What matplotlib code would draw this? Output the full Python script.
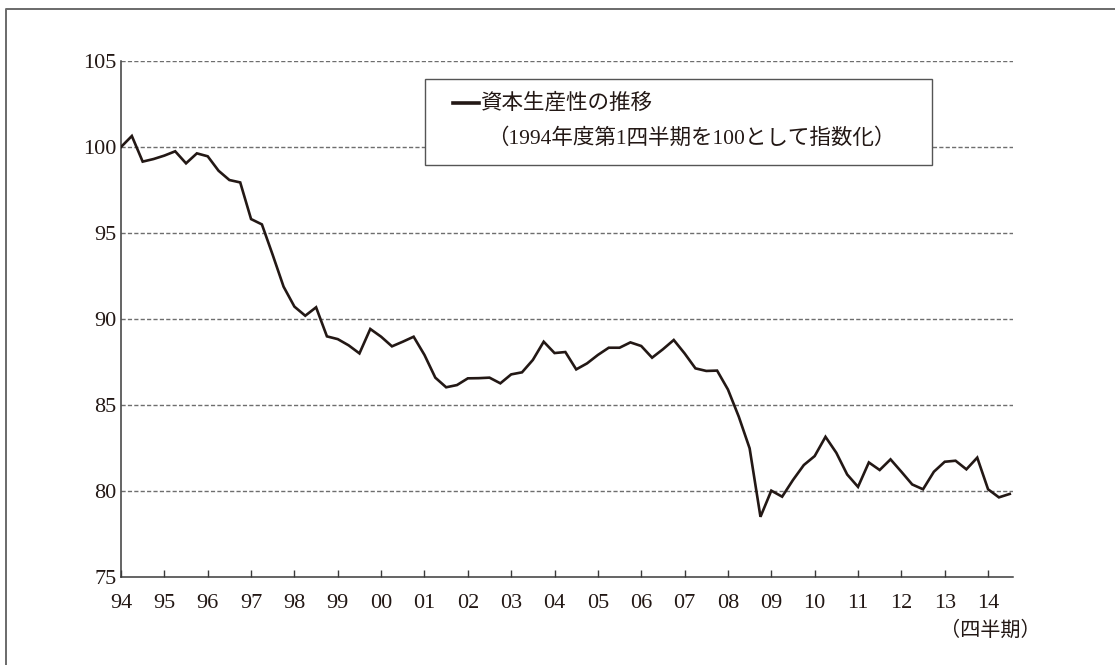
import matplotlib
matplotlib.use("Agg")
import matplotlib.pyplot as plt
from matplotlib.lines import Line2D
from matplotlib.patches import Rectangle

# ---- data ----
start_year = 1994
quarter_values = [
    100.0, 100.64, 99.15, 99.3, 99.5, 99.75, 99.05, 99.63, 99.46, 98.62,
    98.08, 97.94, 95.81, 95.5, 93.72, 91.88, 90.72, 90.19, 90.68, 88.99,
    88.83, 88.47, 88.0, 89.42, 88.97, 88.41, 88.68, 88.97, 87.91, 86.59,
    86.03, 86.16, 86.55, 86.56, 86.59, 86.26, 86.78, 86.9, 87.62, 88.68,
    88.02, 88.08, 87.07, 87.42, 87.91, 88.33, 88.33, 88.64, 88.43, 87.75,
    88.24, 88.78, 88.0, 87.13, 86.98, 87.0, 85.9, 84.32, 82.48, 78.5,
    80.02, 79.67, 80.64, 81.51, 82.03, 83.15, 82.22, 80.96, 80.24, 81.66,
    81.22, 81.84, 81.12, 80.38, 80.1, 81.12, 81.7, 81.76, 81.26, 81.94,
    80.1, 79.63, 79.83,
]
year_ticks = list(range(1994, 2015))
year_labels = ["94", "95", "96", "97", "98", "99", "00", "01", "02", "03",
               "04", "05", "06", "07", "08", "09", "10", "11", "12", "13", "14"]
y_ticks = [75, 80, 85, 90, 95, 100, 105]
legend_line1 = "資本生産性の推移"
legend_line2 = "（1994年度第1四半期を100として指数化）"
x_unit_label = "（四半期）"

x_vals = [start_year + i / 4 for i in range(len(quarter_values))]

FONT = ["Liberation Serif", "Noto Sans CJK JP", "DejaVu Sans"]
plt.rcParams["font.family"] = FONT

W, H = 1115, 665
fig = plt.figure(figsize=(W / 100, H / 100), dpi=100)
fig.patch.set_facecolor("white")

def fx(px):
    return px / W

def fy(py):
    return 1 - py / H

ax = fig.add_axes([fx(121), fy(577), fx(1013) - fx(121), fy(61) - fy(577)])
ink = "#231815"

ax.plot(x_vals, quarter_values, color=ink, lw=1.9, solid_joinstyle="miter", zorder=3)

ax.set_xlim(1994, 2014.575)
ax.set_ylim(75, 105)
ax.set_yticks(y_ticks)
ax.set_yticklabels([str(v) for v in y_ticks])
ax.set_xticks(year_ticks)
ax.set_xticklabels(year_labels)

for v in y_ticks[1:]:
    ax.axhline(v, color="#6e6e6e", lw=1.0, ls=(0, (3.0, 1.6)), zorder=1)

for s in ["top", "right"]:
    ax.spines[s].set_visible(False)
for s in ["left", "bottom"]:
    ax.spines[s].set_color("#3a3a3a")
    ax.spines[s].set_linewidth(1.1)

ax.tick_params(axis="y", length=0, pad=3, labelsize=16, labelcolor=ink)
ax.tick_params(axis="x", direction="in", length=5, width=1.0, color="#3a3a3a",
               pad=12.5, labelsize=16, labelcolor=ink)

# legend box
box = Rectangle((fx(425), fy(165)), fx(932) - fx(425), fy(79) - fy(165),
                transform=fig.transFigure, facecolor="white", edgecolor="#555555",
                lw=1.0, zorder=5)
fig.add_artist(box)
fig.add_artist(Line2D([fx(453), fx(479)], [fy(103), fy(103)], transform=fig.transFigure,
                      color=ink, lw=2.6, zorder=6))
fig.text(fx(480), fy(103), legend_line1, ha="left", va="center", fontsize=15.5,
         color=ink, family=FONT, zorder=6)
fig.text(fx(487), fy(139), legend_line2, ha="left", va="center", fontsize=15.5,
         color=ink, family=FONT, zorder=6)

fig.text(fx(990), fy(631), x_unit_label, ha="center", va="center", fontsize=14.5,
         color=ink, family=FONT)

# outer frame (left and top edges)
fig.add_artist(Line2D([fx(5.5), fx(5.5), fx(1115)], [0, fy(9), fy(9)],
                      transform=fig.transFigure, color="#6a6a6a", lw=1.4))

fig.savefig("out.png", dpi=100, facecolor="white")
